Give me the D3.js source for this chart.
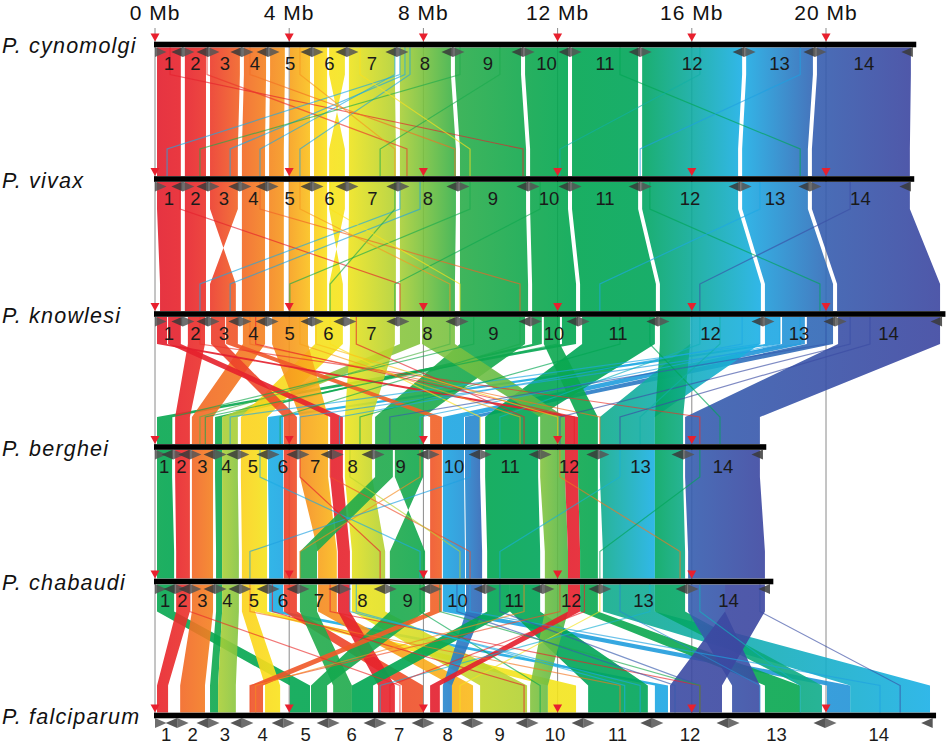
<!DOCTYPE html>
<html>
<head>
<meta charset="utf-8">
<script src="https://cdn.jsdelivr.net/npm/d3@7"></script>
<style>
  body { margin: 0; background: #fff; }
  text { font-family: "Liberation Sans", Arial, sans-serif; }
</style>
</head>
<body>
<div id="chart"></div>
<script>
// genomes, top to bottom
var genomes = ["P. cynomolgi", "P. vivax", "P. knowlesi", "P. berghei", "P. chabaudi", "P. falciparum"]
var genomeY = [44.5, 179, 314, 447, 581.5, 715.5]

// chromosome ends in Mb (chromosomes 1..14)
var chrCynomolgi = [0.83, 1.58, 2.59, 3.37, 4.68, 5.72, 7.21, 8.88, 10.97, 12.37, 14.46, 17.56, 19.67, 22.59]
var chrVivax = [0.83, 1.58, 2.53, 3.34, 4.68, 5.72, 7.24, 9.03, 11.12, 12.37, 14.46, 17.44, 19.52, 22.53]
var chrKnowlesi = [0.83, 1.58, 2.53, 3.34, 4.68, 5.66, 7.24, 9.00, 11.18, 12.61, 14.99, 18.12, 20.27, 23.46]
var chrBerghei = [0.54, 1.04, 1.79, 2.47, 3.37, 4.26, 5.28, 6.50, 8.14, 9.69, 11.48, 13.20, 15.74, 18.12]
var chrChabaudi = [0.60, 1.04, 1.79, 2.53, 3.37, 4.26, 5.51, 6.86, 8.20, 9.84, 11.56, 13.26, 15.86, 18.33]
var chrFalciparum = [0.66, 1.58, 2.59, 3.82, 5.16, 6.56, 7.99, 9.45, 11.09, 12.76, 14.81, 17.08, 19.97, 23.18]
var chrEnds = [chrCynomolgi, chrVivax, chrKnowlesi, chrBerghei, chrChabaudi, chrFalciparum]

var mbTicks = [0, 4, 8, 12, 16, 20]

// colour = position on P. cynomolgi (Mb)
var colorStops = [0, 1.3, 1.9, 2.7, 3.5, 4.5, 4.9, 5.7, 6.6, 7.4, 8.3, 9.0, 12.5, 14.4, 15.3, 16.3, 17.4, 18.6, 19.5, 20.0, 22.6]
var colorValues = ["#e31e2d", "#e9262b", "#ee4a2a", "#f26a24", "#f58a1f", "#f9b31a", "#fde01c", "#f2e51d",
  "#cedb29", "#a5cd39", "#6cbd45", "#25ab4b", "#00a651", "#00a55a", "#10ab86", "#12b0b4", "#1bb1e6",
  "#1f9ee0", "#2f6cb9", "#3b50a5", "#3c46a0"]

// syntenic blocks: [upper start, upper end, lower start, lower end, cynomolgi start, cynomolgi end]
var linksCynVivax = [
  [0.06, 0.77, 0.06, 0.77, 0.06, 0.77], [0.89, 1.52, 0.89, 1.52, 0.89, 1.52],
  [1.64, 2.53, 1.64, 2.47, 1.64, 2.53], [2.65, 3.31, 2.59, 3.28, 2.65, 3.31],
  [3.43, 3.87, 3.40, 3.84, 3.43, 3.87], [4.02, 4.62, 3.99, 4.62, 4.02, 4.62],
  [4.74, 5.13, 4.74, 5.13, 4.74, 5.13], [5.19, 5.66, 5.66, 5.19, 5.19, 5.66],
  [5.78, 7.15, 5.78, 7.18, 5.78, 7.15], [7.30, 8.82, 7.30, 8.97, 7.30, 8.82],
  [8.94, 10.91, 9.09, 11.06, 8.94, 10.91], [11.03, 12.31, 11.18, 12.31, 11.03, 12.31],
  [12.43, 14.40, 12.43, 14.40, 12.43, 14.40], [14.52, 17.50, 14.52, 17.38, 14.52, 17.50],
  [17.62, 19.61, 17.50, 19.46, 17.62, 19.61], [19.73, 22.53, 19.58, 22.50, 19.73, 22.53]
]
var linksVivaxKnowlesi = [
  [0.06, 0.77, 0.15, 0.77, 0.06, 0.77], [0.89, 1.52, 0.89, 1.52, 0.89, 1.52],
  [1.64, 2.47, 2.41, 1.64, 1.64, 2.53], [2.59, 3.28, 2.59, 3.28, 2.65, 3.31],
  [3.40, 3.84, 3.40, 3.84, 3.43, 3.87], [3.99, 4.62, 3.99, 4.62, 4.02, 4.62],
  [4.74, 5.13, 4.74, 5.13, 4.74, 5.13], [5.19, 5.66, 5.60, 5.19, 5.66, 5.19],
  [5.78, 7.18, 5.75, 7.18, 5.78, 7.15], [7.30, 8.97, 7.30, 8.94, 7.30, 8.82],
  [9.09, 11.06, 9.09, 11.12, 8.94, 10.91], [11.18, 12.31, 11.24, 12.55, 11.03, 12.31],
  [12.43, 14.40, 12.67, 14.93, 12.43, 14.40], [14.52, 17.38, 15.05, 18.06, 14.52, 17.50],
  [17.50, 19.46, 18.18, 20.21, 17.62, 19.61], [19.58, 22.50, 20.33, 23.40, 19.73, 22.53]
]
var linksKnowlesiBerghei = [
  [12.13, 12.55, 0.06, 0.51, 11.86, 12.26], [0.98, 1.49, 0.60, 1.04, 0.98, 1.49],
  [2.62, 3.28, 1.10, 1.73, 2.62, 3.28], [11.24, 11.53, 1.79, 2.00, 11.03, 11.33],
  [7.30, 7.90, 2.00, 2.47, 7.30, 7.90], [4.77, 5.60, 2.56, 3.34, 4.77, 5.60],
  [18.18, 18.63, 3.37, 3.82, 17.62, 18.06], [1.67, 2.09, 3.84, 4.23, 1.67, 2.09],
  [3.49, 4.56, 4.32, 5.16, 3.49, 4.56], [0.39, 0.77, 5.22, 5.60, 0.39, 0.77],
  [5.81, 7.15, 5.66, 6.47, 5.81, 7.15], [9.09, 11.03, 6.56, 7.99, 9.09, 11.03],
  [2.12, 2.47, 8.20, 8.55, 2.12, 2.47], [18.69, 19.37, 8.58, 9.21, 18.12, 18.80],
  [19.43, 20.21, 9.24, 9.69, 19.00, 19.60], [12.73, 14.90, 9.84, 11.42, 12.49, 14.40],
  [7.96, 8.94, 11.48, 12.22, 7.90, 8.60], [0.06, 0.36, 12.22, 12.61, 0.06, 0.36],
  [11.59, 12.07, 12.61, 13.20, 11.39, 11.83], [15.95, 18.03, 13.26, 14.90, 15.41, 17.47],
  [15.05, 15.95, 14.90, 15.74, 14.52, 15.41], [20.36, 23.40, 15.80, 18.03, 19.73, 22.53]
]
var linksBergheiChabaudi = [
  [0.06, 0.51, 0.06, 0.57, 11.86, 12.26], [0.60, 1.04, 0.63, 1.04, 0.98, 1.49],
  [1.10, 1.73, 1.10, 1.73, 2.62, 3.28], [1.79, 2.00, 1.82, 2.00, 11.03, 11.33],
  [2.00, 2.47, 2.00, 2.50, 7.30, 7.90], [2.56, 3.34, 2.59, 3.34, 4.77, 5.60],
  [3.37, 3.82, 3.40, 3.82, 17.62, 18.06], [3.84, 4.23, 3.84, 4.23, 1.67, 2.09],
  [4.32, 5.16, 4.86, 5.42, 3.49, 4.56], [5.22, 5.60, 5.45, 5.81, 0.39, 0.77],
  [5.66, 6.47, 5.87, 6.86, 5.81, 7.15], [6.56, 7.09, 4.32, 4.83, 9.09, 9.70],
  [7.15, 7.99, 8.05, 7.00, 9.70, 11.03], [8.20, 8.55, 8.20, 8.55, 2.12, 2.47],
  [8.58, 9.21, 8.58, 9.24, 18.12, 18.80], [9.24, 9.69, 9.27, 9.75, 19.00, 19.60],
  [9.84, 11.42, 9.90, 11.48, 12.49, 14.40], [11.48, 12.22, 11.62, 12.31, 7.90, 8.60],
  [12.22, 12.61, 12.31, 12.67, 0.06, 0.36], [12.61, 13.20, 12.67, 13.20, 11.39, 11.83],
  [13.26, 14.90, 13.35, 14.90, 15.41, 17.47], [14.90, 15.74, 14.90, 15.80, 14.52, 15.41],
  [15.80, 18.03, 15.89, 18.18, 19.73, 22.53]
]
var linksChabaudiFalciparum = [
  [0.06, 0.57, 4.02, 4.62, 11.86, 12.26], [0.63, 1.04, 0.06, 0.39, 0.98, 1.49],
  [1.10, 1.73, 0.75, 1.49, 2.62, 3.28], [1.82, 2.00, 1.64, 1.88, 11.03, 11.33],
  [2.00, 2.50, 1.88, 2.41, 7.30, 7.90], [2.59, 2.98, 3.28, 3.73, 4.77, 5.20],
  [2.98, 3.34, 11.71, 12.55, 5.20, 5.60], [3.40, 3.82, 14.90, 15.29, 17.62, 18.06],
  [3.84, 4.23, 7.36, 7.99, 1.67, 2.09], [4.86, 5.42, 8.85, 9.48, 3.49, 4.56],
  [5.45, 5.81, 6.65, 7.15, 0.39, 0.77], [5.87, 6.86, 9.69, 11.09, 5.81, 7.15],
  [4.32, 4.83, 5.31, 5.87, 9.09, 9.70], [7.00, 8.05, 4.65, 5.13, 11.03, 9.70],
  [8.20, 8.55, 2.83, 3.22, 2.12, 2.47], [8.58, 9.24, 20.03, 20.72, 18.12, 18.80],
  [9.27, 9.75, 8.58, 8.85, 19.00, 19.60], [9.90, 10.58, 5.87, 6.50, 12.49, 13.30],
  [10.58, 11.48, 12.91, 14.69, 13.30, 14.40], [11.62, 12.31, 11.18, 11.71, 7.90, 8.60],
  [12.31, 12.67, 8.20, 8.49, 0.06, 0.36], [12.67, 13.20, 18.18, 19.23, 11.39, 11.83],
  [13.35, 14.90, 20.72, 23.10, 15.41, 17.47], [14.90, 15.80, 19.23, 19.88, 14.52, 15.41],
  [15.89, 16.99, 17.20, 18.03, 19.73, 21.20], [16.99, 18.18, 15.35, 16.90, 21.20, 22.53]
]

// single-gene links: [upper Mb, lower Mb, cynomolgi Mb]
var thinCynVivax = [[0.45, 10.97, 0.45], [1.55, 7.51, 1.5], [7.30, 0.36, 17.9], [7.45, 2.24, 18.0],
  [7.15, 3.13, 17.8], [7.60, 4.32, 18.2], [4.32, 7.15, 3.8], [9.09, 1.34, 9.5], [10.28, 6.71, 10],
  [13.86, 19.23, 13], [16.24, 12.07, 16], [19.23, 14.46, 18.5], [2.83, 8.94, 2.8], [6.11, 9.39, 5]]
var thinVivaxKnowlesi = [[0.75, 7.30, 0.5], [3.13, 10.88, 2.5], [7.30, 1.34, 17.9], [7.90, 2.24, 18.3],
  [7.15, 5.22, 9], [9.39, 4.02, 10], [11.48, 7.15, 11], [4.32, 8.79, 3.8], [14.75, 19.82, 14],
  [18.03, 13.26, 18], [20.72, 16.24, 20.5], [5.22, 9.09, 5]]
var thinKnowlesiBerghei = [[18.63, 7.90, 18.2], [19.23, 4.32, 18.5], [18.03, 2.24, 17.9], [16.24, 10.28, 16.5],
  [13.86, 6.11, 12.5], [2.83, 13.26, 2.8], [1.34, 16.24, 1.5], [5.22, 9.69, 5], [20.72, 12.07, 20.5],
  [21.31, 13.86, 21], [8.79, 1.34, 8.6], [4.32, 10.88, 4], [10.88, 3.73, 10], [14.75, 16.84, 13.5],
  [16.84, 14.46, 16], [3.0, 12.5, 1.0], [6.0, 11.0, 0.8], [17.5, 5.5, 18.0], [20.0, 7.0, 19.8],
  [12.0, 1.5, 11.5], [9.5, 0.5, 10.5], [4.8, 12.0, 4.6]]
var thinBergheiChabaudi = [[5.22, 9.39, 2], [7.90, 4.32, 3.5], [3.13, 7.90, 17.8], [5.81, 9.09, 7],
  [9.39, 2.83, 18.5], [12.07, 15.65, 3], [13.86, 10.28, 17], [16.24, 13.26, 14], [4.32, 6.71, 0.5]]
var thinChabaudiFalciparum = [[1.04, 7.30, 1.4], [7.90, 11.48, 12], [9.39, 21.61, 18.4], [10.28, 16.24, 19.8],
  [13.26, 9.09, 5.6], [14.75, 6.71, 17], [18.03, 22.21, 20.5], [16.24, 19.23, 16.5], [2.83, 13.86, 3],
  [5.22, 16.24, 1], [12.07, 2.83, 2], [8.49, 16.24, 10], [5.81, 14.46, 18], [13.86, 18.03, 19],
  [3.5, 11.0, 0.5], [6.0, 14.0, 17.5], [9.0, 15.5, 19.8], [11.0, 3.0, 3.5], [12.8, 7.0, 1.2]]

var allLinks = [linksCynVivax, linksVivaxKnowlesi, linksKnowlesiBerghei, linksBergheiChabaudi, linksChabaudiFalciparum]
var allThin = [thinCynVivax, thinVivaxKnowlesi, thinKnowlesiBerghei, thinBergheiChabaudi, thinChabaudiFalciparum]

var width = 946, height = 744

var svg = d3.select("#chart")
  .append("svg")
  .attr("width", width)
  .attr("height", height)

var x = d3.scaleLinear().domain([0, 20]).range([155, 826])
var color = d3.scaleLinear().domain(colorStops).range(colorValues).clamp(true)
var line = d3.line()

var defs = svg.append("defs")

// guide lines at each Mb tick
svg.append("g")
  .selectAll("line")
  .data(mbTicks)
  .enter()
  .append("line")
  .attr("x1", function (d) { return x(d) })
  .attr("x2", function (d) { return x(d) })
  .attr("y1", 28)
  .attr("y2", genomeY[5])
  .attr("stroke", "#8a8a8a")
  .attr("stroke-width", 1)

// ribbons between neighbouring genomes
function ribbonPoints(l, y0, y1) {
  var t = y0 + 3, t2 = y0 + 30, b2 = y1 - 30, b = y1 - 3
  return [[x(l[0]), t], [x(l[0]), t2], [x(l[2]), b2], [x(l[2]), b],
    [x(l[3]), b], [x(l[3]), b2], [x(l[1]), t2], [x(l[1]), t]]
}

allLinks.forEach(function (links, p) {
  var y0 = genomeY[p], y1 = genomeY[p + 1]
  var g = svg.append("g")
  links.forEach(function (l, i) {
    var id = "g" + p + "_" + i
    var grad = defs.append("linearGradient").attr("id", id)
      .attr("x1", 0).attr("x2", 1).attr("y1", 0).attr("y2", 0)
    grad.append("stop").attr("offset", "0%").attr("stop-color", color(l[4]))
    grad.append("stop").attr("offset", "100%").attr("stop-color", color(l[5]))
    g.append("path")
      .attr("d", line(ribbonPoints(l, y0, y1)) + "Z")
      .attr("fill", "url(#" + id + ")")
      .attr("fill-opacity", 0.9)
  })
})

// thin single-gene links
allThin.forEach(function (lines, p) {
  var y0 = genomeY[p], y1 = genomeY[p + 1]
  svg.append("g")
    .selectAll("path")
    .data(lines)
    .enter()
    .append("path")
    .attr("d", function (d) {
      return line([[x(d[0]), y0 + 3], [x(d[0]), y0 + 30], [x(d[1]), y1 - 30], [x(d[1]), y1 - 3]])
    })
    .attr("fill", "none")
    .attr("stroke", function (d) { return color(d[2]) })
    .attr("stroke-width", 1.2)
    .attr("stroke-opacity", 0.65)
})

// genome bars, markers, chromosome labels
genomes.forEach(function (name, gi) {
  var y = genomeY[gi]
  var ends = chrEnds[gi]
  var len = ends[ends.length - 1]
  var g = svg.append("g")

  g.append("rect")
    .attr("x", x(0) - 1)
    .attr("y", y - 2.8)
    .attr("width", x(len + 0.1) - x(0) + 1)
    .attr("height", 5.6)
    .attr("fill", "#000")

  // red tick triangles
  g.selectAll(".tick")
    .data(mbTicks.filter(function (t) { return t <= len }))
    .enter()
    .append("path")
    .attr("d", function (t) {
      var cx = x(t), ty = y - 3
      return line([[cx - 4.5, ty - 8], [cx + 4.5, ty - 8], [cx, ty]]) + "Z"
    })
    .attr("fill", "#e8202e")

  // chromosome boundary arrows
  var starts = [0].concat(ends.slice(0, -1))
  starts.forEach(function (s, ci) {
    var e = ends[ci], cy = y + 7.5
    g.append("path")
      .attr("d", line([[x(s), cy - 5], [x(s) + 11.5, cy], [x(s), cy + 5]]) + "Z")
      .attr("fill", "#555")
      .attr("fill-opacity", 0.85)
    g.append("path")
      .attr("d", line([[x(e), cy - 5], [x(e) - 11.5, cy], [x(e), cy + 5]]) + "Z")
      .attr("fill", "#3a3a3a")
      .attr("fill-opacity", 0.85)
    g.append("text")
      .attr("x", x((s + e) / 2))
      .attr("y", y + 25.5)
      .attr("text-anchor", "middle")
      .attr("font-size", 18.5)
      .attr("fill", "#1a1a1a")
      .text(ci + 1)
  })

  g.append("text")
    .attr("x", 2)
    .attr("y", y + 8.5)
    .attr("font-size", 21.5)
    .attr("font-style", "italic")
    .attr("letter-spacing", 1.2)
    .attr("fill", "#111")
    .text(name)
})

// Mb labels on top
svg.append("g")
  .selectAll("text")
  .data(mbTicks)
  .enter()
  .append("text")
  .attr("x", function (d) { return x(d) })
  .attr("y", 20)
  .attr("text-anchor", "middle")
  .attr("font-size", 21)
  .attr("letter-spacing", 1)
  .attr("fill", "#111")
  .text(function (d) { return d + " Mb" })
</script>
</body>
</html>
